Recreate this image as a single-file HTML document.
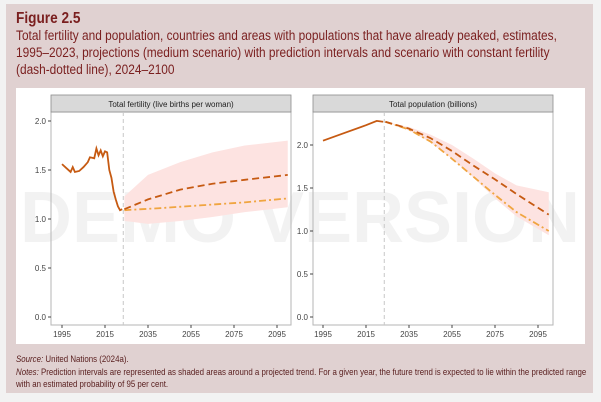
<!DOCTYPE html>
<html><head><meta charset="utf-8">
<style>
body{margin:0;width:601px;height:402px;background:#f2f2f2;font-family:"Liberation Sans",sans-serif;overflow:hidden;position:relative}
#card{position:absolute;left:6px;top:4px;width:587px;height:389px;background:#e0d1d1}
#title{position:absolute;left:16px;top:10px;color:#7a1f1f;font-size:13.5px;line-height:17px;white-space:nowrap;transform:scaleX(0.88);transform-origin:0 0}
#title b{font-size:15.5px;display:block;line-height:17px}
#notes{position:absolute;left:16px;top:354px;font-size:9.5px;line-height:12.5px;color:#5a2020;white-space:nowrap;transform:scaleX(0.83);transform-origin:0 0}
svg{position:absolute;left:0;top:0}
</style></head><body>
<div id="card"></div>
<div id="title"><b>Figure 2.5</b>Total fertility and population, countries and areas with populations that have already peaked, estimates,<br>1995–2023, projections (medium scenario) with prediction intervals and scenario with constant fertility<br>(dash-dotted line), 2024–2100</div>
<svg id="chart" width="601" height="402"></svg>
<div id="notes"><i>Source:</i> United Nations (2024a).<br><i>Notes:</i> Prediction intervals are represented as shaded areas around a projected trend. For a given year, the future trend is expected to lie within the predicted range<br>with an estimated probability of 95 per cent.</div>
<script>
const fertYears=[1995,1997,1999,2000,2001,2003,2005,2007,2008,2010,2011,2012,2013,2014,2015,2016,2017,2018,2019,2020,2021,2022,2023];
const fertVals=[1.56,1.52,1.48,1.53,1.48,1.49,1.53,1.58,1.63,1.62,1.72,1.65,1.70,1.64,1.69,1.68,1.50,1.42,1.28,1.20,1.13,1.09,1.10];
const fertProjYears=[2024,2035,2050,2065,2080,2100];
const fertMedium=[1.10,1.20,1.30,1.36,1.40,1.45];
const fertConstYears=[2024,2040,2060,2080,2100];
const fertConst=[1.09,1.11,1.14,1.17,1.21];
const fertUpper=[1.23,1.45,1.58,1.68,1.75,1.80];
const fertLower=[0.98,0.95,0.98,1.02,1.07,1.12];
const popYears=[1995,2005,2015,2020,2023];
const popVals=[2.05,2.14,2.23,2.28,2.27];
const popProjYears=[2024,2035,2045,2055,2065,2075,2085,2100];
const popMedium=[2.27,2.19,2.08,1.93,1.76,1.60,1.43,1.19];
const popConst=[2.27,2.18,2.04,1.84,1.63,1.42,1.22,1.00];
const popUpper=[2.27,2.21,2.12,2.00,1.84,1.67,1.53,1.45];
const popLower=[2.27,2.17,2.03,1.84,1.62,1.38,1.17,0.95];
const xTicks=[1995,2015,2035,2055,2075,2095];
const yTicks=[0,0.5,1.0,1.5,2.0];
const yTickLabels=["0.0","0.5","1.0","1.5","2.0"];

const NS="http://www.w3.org/2000/svg";
const svg=document.getElementById('chart');
function mk(t,a,p){const e=document.createElementNS(NS,t);for(const k in a)e.setAttribute(k,a[k]);(p||svg).appendChild(e);return e;}
mk('rect',{x:16,y:88,width:569,height:256,fill:'#fff'});
const wm=mk('text',{x:300,y:242,'font-size':72,'font-weight':'bold','text-anchor':'middle',fill:'#000','fill-opacity':0.05,'font-family':'Liberation Sans,sans-serif'});
wm.textContent='DEMO VERSION';



function panel(cfg){
  const g=mk('g',{});
  
  
  const L=cfg.left,R=cfg.left+240,T=112,B=325;
  const x=v=>cfg.x0+(v-1995)*2.15;
  const y=v=>317-v*cfg.ky;
  mk('rect',{x:L,y:T,width:240,height:B-T,fill:'none',stroke:'#b5b5b5','stroke-width':1},g);
  const strip=mk('rect',{x:L,y:95,width:240,height:17,fill:'#d9d9d9',stroke:'#8c8c8c','stroke-width':0.8},g);
  
  
  const st=mk('text',{x:L+120,y:107,'font-size':8,'text-anchor':'middle',fill:'#222'},g);st.textContent=cfg.title;
  xTicks.forEach(t=>{mk('line',{x1:x(t),x2:x(t),y1:B,y2:B+3,stroke:'#444'},g);
    const tx=mk('text',{x:x(t),y:B+12,'font-size':8,'text-anchor':'middle',fill:'#444'},g);tx.textContent=t;
    
    });
  yTicks.forEach((t,i)=>{if(y(t)<T)return;mk('line',{x1:L-3,x2:L,y1:y(t),y2:y(t),stroke:'#444'},g);
    const tx=mk('text',{x:L-5,y:y(t)+3,'font-size':8,'text-anchor':'end',fill:'#444'},g);tx.textContent=yTickLabels[i];
    
    });
  let d='';cfg.py.forEach((yr,i)=>d+=(i?'L':'M')+x(yr)+','+y(cfg.up[i]));
  for(let i=cfg.py.length-1;i>=0;i--)d+='L'+x(cfg.py[i])+','+y(cfg.lo[i]);
  const band=mk('path',{d:d+'Z',fill:'#fde3e1'},g);
  
  
  mk('line',{x1:x(2023.5),x2:x(2023.5),y1:T,y2:B,stroke:'#c8c8c8','stroke-dasharray':'4,3','stroke-width':1},g);
  const line=(xs,vs,attrs,name)=>{const p=mk('path',Object.assign({d:xs.map((yr,i)=>(i?'L':'M')+x(yr)+','+y(vs[i])).join(''),fill:'none'},attrs),g);
    
    };
  line(cfg.cy,cfg.cv,{stroke:'#f0a540','stroke-width':1.8,'stroke-dasharray':'7,3,2,3'},'constant-fertility-line');
  line(cfg.py,cfg.mv,{stroke:'#c65a12','stroke-width':1.8,'stroke-dasharray':'7,4'},'medium-projection-line');
  line(cfg.hy,cfg.hv,{stroke:'#c65a12','stroke-width':1.8},'estimates-line');
}
panel({name:'fertility-panel',title:'Total fertility (live births per woman)',left:51,x0:62,ky:98,
  hy:fertYears,hv:fertVals,py:fertProjYears,mv:fertMedium,up:fertUpper,lo:fertLower,cy:fertConstYears,cv:fertConst});
panel({name:'population-panel',title:'Total population (billions)',left:313,x0:323,ky:86,
  hy:popYears,hv:popVals,py:popProjYears,mv:popMedium,up:popUpper,lo:popLower,cy:popProjYears,cv:popConst});
</script>
</body></html>
